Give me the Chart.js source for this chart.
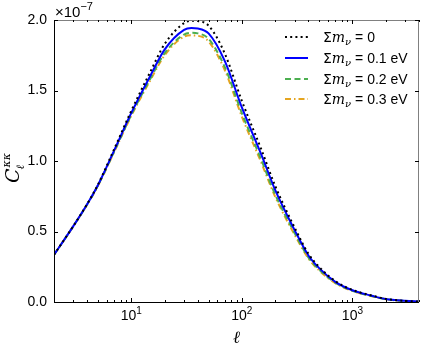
<!DOCTYPE html>
<html>
<head>
<meta charset="utf-8">
<script src="https://cdn.jsdelivr.net/npm/chart.js@4.4.1/dist/chart.umd.min.js"></script>
<style>
  html, body { margin: 0; padding: 0; background: #fff; }
  #wrap { width: 425px; height: 350px; }
</style>
</head>
<body>
<div id="wrap"><canvas id="clChart"></canvas></div>
<script>
// multipole ell, and C_ell^{kappa kappa} in units of 1e-7
const ells = [2, 3, 4, 5, 7, 10, 15, 20, 30, 35, 40, 50, 70, 100, 150, 200, 300, 400, 500, 700, 1000, 1500, 2000, 3000, 4000];
const clMassless = [0.335, 0.54, 0.696, 0.833, 1.084, 1.356, 1.639, 1.829, 1.978, 1.994, 1.992, 1.960, 1.763, 1.426, 1.082, 0.824, 0.528, 0.342, 0.249, 0.148, 0.086, 0.046, 0.022, 0.008, 0.003];
const clMnu01 = [0.335, 0.54, 0.695, 0.83, 1.075, 1.34, 1.61, 1.79, 1.93, 1.943, 1.94, 1.905, 1.71, 1.38, 1.045, 0.795, 0.51, 0.33, 0.24, 0.143, 0.083, 0.044, 0.021, 0.008, 0.003];
const clMnu02 = [0.335, 0.539, 0.694, 0.827, 1.067, 1.327, 1.589, 1.763, 1.897, 1.909, 1.905, 1.867, 1.667, 1.339, 1.008, 0.763, 0.489, 0.316, 0.230, 0.137, 0.080, 0.042, 0.020, 0.0077, 0.0029];
const clMnu03 = [0.335, 0.539, 0.692, 0.824, 1.064, 1.320, 1.578, 1.749, 1.882, 1.891, 1.888, 1.848, 1.645, 1.315, 0.988, 0.747, 0.477, 0.309, 0.224, 0.134, 0.078, 0.041, 0.0196, 0.0075, 0.0028];
const massLabels = ["0", "0.1 eV", "0.2 eV", "0.3 eV"];

const yTicks = [0, 0.5, 1.0, 1.5, 2.0];
const yTickLabels = ["0.0", "0.5", "1.0", "1.5", "2.0"];
const xTicks = [10, 100, 1000];
const xTickExp = ["1", "2", "3"];

const styles = [
  { color: "#000000", dash: [2, 3.2] },
  { color: "#0000ff", dash: [] },
  { color: "#4caf50", dash: [6, 3.5] },
  { color: "#e5a520", dash: [6, 3, 1.5, 3] },
];

const allSeries = [clMassless, clMnu01, clMnu02, clMnu03];

const datasets = allSeries.map((vals, i) => ({
  label: massLabels[i],
  data: ells.map((l, j) => ({ x: l, y: vals[j] })),
  borderColor: styles[i].color,
  borderDash: styles[i].dash,
  borderWidth: 2,
  pointRadius: 0,
  fill: false,
  cubicInterpolationMode: "monotone",
}));

// draw a run of [text, font, dy] pieces left to right
function drawPieces(ctx, x, y, pieces) {
  pieces.forEach((p) => {
    ctx.font = p[1];
    ctx.fillText(p[0], x, y + (p[2] || 0));
    x += ctx.measureText(p[0]).width;
  });
  return x;
}

const axesPlugin = {
  id: "axesPlugin",
  afterDatasetsDraw(chart) {
    const ctx = chart.ctx;
    const a = chart.chartArea;
    const xs = chart.scales.x;
    const ys = chart.scales.y;
    ctx.save();

    // frame
    ctx.lineWidth = 1;
    ctx.strokeStyle = "#000";
    ctx.beginPath();
    ctx.moveTo(a.left + 0.5, a.top);
    ctx.lineTo(a.left + 0.5, a.bottom + 0.5);
    ctx.lineTo(a.right, a.bottom + 0.5);
    ctx.stroke();
    ctx.strokeStyle = "#808080";
    ctx.beginPath();
    ctx.moveTo(a.left, a.top + 0.5);
    ctx.lineTo(a.right - 0.5, a.top + 0.5);
    ctx.lineTo(a.right - 0.5, a.bottom);
    ctx.stroke();

    // x ticks, inward on top and bottom
    ctx.strokeStyle = "#000";
    for (let dec = 1; dec <= 1000; dec *= 10) {
      for (let m = 1; m <= 9; m++) {
        const v = dec * m;
        if (v < xs.min || v > xs.max) continue;
        const px = Math.round(xs.getPixelForValue(v)) + 0.5;
        const len = m === 1 ? 4 : 2;
        ctx.beginPath();
        ctx.moveTo(px, a.bottom);
        ctx.lineTo(px, a.bottom - len);
        ctx.moveTo(px, a.top);
        ctx.lineTo(px, a.top + len);
        ctx.stroke();
      }
    }
    // y ticks, inward on left and right
    yTicks.forEach((v) => {
      const py = Math.round(ys.getPixelForValue(v)) + 0.5;
      ctx.beginPath();
      ctx.moveTo(a.left, py);
      ctx.lineTo(a.left + 4, py);
      ctx.moveTo(a.right, py);
      ctx.lineTo(a.right - 4, py);
      ctx.stroke();
    });

    ctx.fillStyle = "#000";
    // y tick labels
    ctx.font = "14px 'Liberation Sans'";
    ctx.textAlign = "right";
    ctx.textBaseline = "middle";
    yTicks.forEach((v, i) => {
      ctx.fillText(yTickLabels[i], a.left - 7, ys.getPixelForValue(v));
    });

    // x tick labels 10^n
    ctx.textAlign = "left";
    ctx.textBaseline = "alphabetic";
    xTicks.forEach((v, i) => {
      ctx.font = "14px 'Liberation Sans'";
      const w1 = ctx.measureText("10").width;
      ctx.font = "10px 'Liberation Sans'";
      const w2 = ctx.measureText(xTickExp[i]).width;
      const x0 = xs.getPixelForValue(v) - (w1 + w2) / 2;
      drawPieces(ctx, x0, 320, [["10", "14px 'Liberation Sans'"], [xTickExp[i], "10px 'Liberation Sans'", -6]]);
    });

    // x axis label
    ctx.textAlign = "center";
    ctx.font = "italic 17px 'DejaVu Serif'";
    ctx.fillText("\u2113", (a.left + a.right) / 2, 343);

    // offset text
    ctx.textAlign = "left";
    drawPieces(ctx, a.left + 1, 17, [["\u00d710", "15px 'Liberation Sans'"], ["\u22127", "11px 'Liberation Sans'", -7]]);

    // y axis label
    ctx.save();
    ctx.translate(19, 183);
    ctx.rotate(-Math.PI / 2);
    ctx.font = "italic 19px 'DejaVu Serif'";
    ctx.fillText("C", 0, 0);
    const cw = ctx.measureText("C").width;
    ctx.font = "italic 11px 'DejaVu Serif'";
    ctx.fillText("\u03ba\u03ba", cw + 1, -9);
    ctx.fillText("\u2113", cw - 1, 5);
    ctx.restore();

    // legend
    const rows = [37, 58, 79, 99];
    massLabels.forEach((lab, i) => {
      const y = rows[i];
      ctx.strokeStyle = styles[i].color;
      ctx.setLineDash(styles[i].dash);
      ctx.lineWidth = 2;
      ctx.beginPath();
      ctx.moveTo(285, y);
      ctx.lineTo(308, y);
      ctx.stroke();
      ctx.setLineDash([]);
      ctx.fillStyle = "#000";
      ctx.textBaseline = "alphabetic";
      drawPieces(ctx, 323, y + 5, [
        ["\u03a3", "14px 'DejaVu Sans'"],
        ["m", "italic 14px 'DejaVu Serif'"],
        ["\u03bd", "italic 10px 'DejaVu Serif'", 3],
        [" = " + lab, "14px 'Liberation Sans'"],
      ]);
    });

    ctx.restore();
  },
};

new Chart(document.getElementById("clChart"), {
  type: "line",
  data: { datasets: datasets },
  options: {
    responsive: true,
    maintainAspectRatio: false,
    animation: false,
    layout: { padding: { left: 54, right: 6, top: 20, bottom: 48 } },
    plugins: { legend: { display: false }, tooltip: { enabled: false } },
    scales: {
      x: { type: "logarithmic", min: 2, max: 4000, display: false },
      y: { type: "linear", min: 0, max: 2.0, display: false },
    },
  },
  plugins: [axesPlugin],
});
</script>
</body>
</html>
